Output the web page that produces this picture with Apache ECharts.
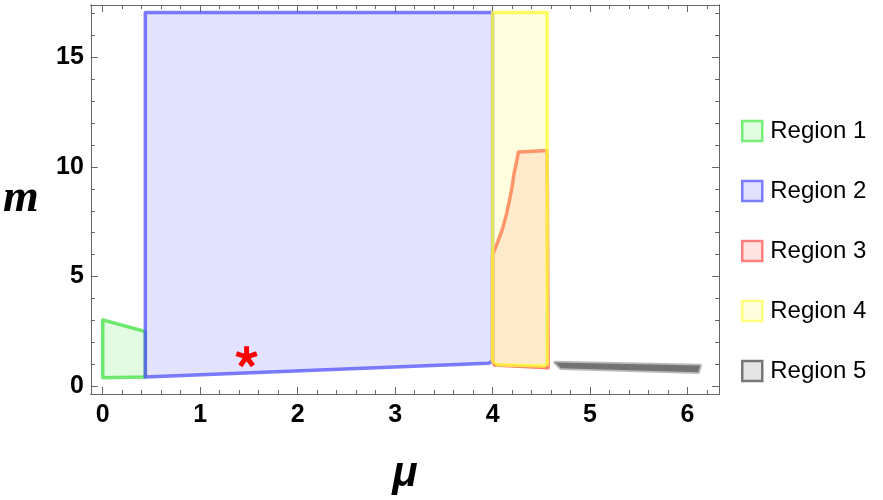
<!DOCTYPE html>
<html>
<head>
<meta charset="utf-8">
<script src="https://cdn.jsdelivr.net/npm/echarts@6/dist/echarts.min.js"></script>
<style>
  html, body { margin: 0; padding: 0; background: #fff; }
  #main { width: 883px; height: 500px; }
</style>
</head>
<body>
<div id="main"></div>
<script>
// region outlines, [mu, m]
const region1 = [[0, 0.39], [0, 3.03], [0.437, 2.5], [0.437, 0.42]];
const region2 = [[0.437, 0.42], [0.437, 17.03], [4.0, 17.03], [4.0, 1.16], [3.96, 1.05]];
const region3 = [[4.0, 1.15], [4.0, 6.0], [4.05, 6.55], [4.10, 7.15], [4.14, 7.8], [4.17, 8.4],
  [4.2, 9.1], [4.22, 9.7], [4.245, 10.2], [4.265, 10.68], [4.56, 10.75], [4.57, 0.85], [4.02, 0.97]];
const region4 = [[4.0, 1.15], [4.0, 17.03], [4.56, 17.03], [4.56, 1.0], [4.53, 0.93], [4.05, 0.98]];
const region5 = [[4.64, 1.09], [6.13, 0.95], [6.11, 0.64], [4.70, 0.82]];
const starPoint = [[1.476, 1.35]];

const regionNames = ["Region 1", "Region 2", "Region 3", "Region 4", "Region 5"];

// ticks
const xMajor = [0, 1, 2, 3, 4, 5, 6];
const xMinor = [0.2, 0.4, 0.6, 0.8, 1.2, 1.4, 1.6, 1.8, 2.2, 2.4, 2.6, 2.8, 3.2, 3.4, 3.6, 3.8,
  4.2, 4.4, 4.6, 4.8, 5.2, 5.4, 5.6, 5.8, 6.2];
const yMajor = [0, 5, 10, 15];
const yMinor = [1, 2, 3, 4, 6, 7, 8, 9, 11, 12, 13, 14, 16, 17];

const styles = [
  { fill: "rgba(60,230,60,0.15)", stroke: "rgba(60,225,60,0.72)", icon: "#e2fde2", edge: "#77ee77" },
  { fill: "rgba(90,90,255,0.17)", stroke: "rgba(80,80,255,0.75)", icon: "#e2e2ff", edge: "#7b7bff" },
  { fill: "rgba(255,90,90,0.15)", stroke: "rgba(255,90,70,0.78)", icon: "#ffe2e2", edge: "#ff7f7f" },
  { fill: "rgba(255,255,100,0.2)", stroke: "rgba(255,255,60,0.78)", icon: "#ffffe0", edge: "#ffff80" },
  { fill: "rgba(95,95,95,0.88)", stroke: "rgba(120,120,120,0.5)", icon: "#e5e5e5", edge: "#777777" },
];

// five-spoke asterisk for the marker
function starPath() {
  let d = "";
  const r = 10, w = 2.3;
  for (let k = 0; k < 5; k++) {
    const a = (-90 + 72 * k) * Math.PI / 180;
    const dx = Math.cos(a), dy = Math.sin(a), px = -dy, py = dx;
    const p = [
      [w * px, w * py],
      [r * dx + w * px, r * dy + w * py],
      [r * dx - w * px, r * dy - w * py],
      [-w * px, -w * py],
    ];
    d += "M" + p.map(q => (q[0] + 12).toFixed(2) + " " + (q[1] + 12).toFixed(2)).join("L") + "Z";
  }
  return "path://" + d;
}

function polySeries(name, pts, st) {
  return {
    name: name,
    type: "custom",
    data: pts,
    silent: true,
    renderItem: function (params, api) {
      if (params.context.rendered) return;
      params.context.rendered = true;
      return {
        type: "polygon",
        shape: { points: pts.map(p => api.coord(p)) },
        style: { fill: st.fill, stroke: st.stroke, lineWidth: 3.5, lineJoin: "round" },
      };
    },
  };
}

const frameColor = "#666";
const tickFont = { fontSize: 25, fontWeight: "bold", color: "#000", fontFamily: "Liberation Sans" };

function xAx(pos, ticks, len, labels) {
  return {
    type: "value", min: -0.1226, max: 6.323, position: pos,
    axisLine: { show: true, onZero: false, lineStyle: { color: frameColor, width: 1 } },
    axisTick: { show: true, inside: true, length: len, customValues: ticks, lineStyle: { color: frameColor } },
    axisLabel: labels ? Object.assign({ customValues: ticks, margin: 9 }, tickFont) : { show: false },
    splitLine: { show: false },
  };
}
function yAx(pos, ticks, len, labels) {
  return {
    type: "value", min: -0.35, max: 17.377, position: pos,
    axisLine: { show: true, onZero: false, lineStyle: { color: frameColor, width: 1 } },
    axisTick: { show: true, inside: true, length: len, customValues: ticks, lineStyle: { color: frameColor } },
    axisLabel: labels ? Object.assign({ customValues: ticks, margin: 7 }, tickFont) : { show: false },
    splitLine: { show: false },
  };
}

const xAxes = [xAx("bottom", xMajor, 7, true), xAx("bottom", xMinor, 4, false),
  xAx("top", xMajor, 7, false), xAx("top", xMinor, 4, false)];
Object.assign(xAxes[0], {
  name: "μ", nameLocation: "middle", nameGap: 59,
  nameTextStyle: { fontSize: 42, fontWeight: "bold", fontStyle: "italic", color: "#000", fontFamily: "Liberation Sans" },
});
const yAxes = [yAx("left", yMajor, 7, true), yAx("left", yMinor, 4, false),
  yAx("right", yMajor, 7, false), yAx("right", yMinor, 4, false)];
Object.assign(yAxes[0], {
  name: "m", nameLocation: "middle", nameGap: 52, nameRotate: 0,
  nameTextStyle: { fontSize: 46, fontWeight: "bold", fontStyle: "italic", color: "#000", fontFamily: "Liberation Serif" },
});

const regions = [region1, region2, region3, region4, region5];
const series = regions.map((pts, i) => polySeries(regionNames[i], pts, styles[i]));
series.push({
  type: "scatter",
  data: starPoint,
  symbol: starPath(),
  symbolSize: [22, 21],
  itemStyle: { color: "#ff0000", opacity: 1 },
  silent: true,
  z: 10,
});

const myChart = echarts.init(document.getElementById("main"), null, { renderer: "canvas" });
myChart.setOption({
  animation: false,
  backgroundColor: "#fff",
  grid: { left: 88, top: 5, width: 631, height: 390, containLabel: false },
  xAxis: xAxes,
  yAxis: yAxes,
  legend: {
    orient: "vertical",
    left: 741,
    top: 119,
    padding: 0,
    itemWidth: 20,
    itemHeight: 20,
    itemGap: 36,
    icon: "rect",
    selectedMode: false,
    textStyle: { fontSize: 24, color: "#000", fontFamily: "Liberation Sans", padding: [0, 0, 0, 3] },
    data: regionNames.map((n, i) => ({
      name: n,
      itemStyle: { color: styles[i].icon, borderColor: styles[i].edge, borderWidth: 2.5 },
    })),
  },
  series: series,
});
</script>
</body>
</html>
